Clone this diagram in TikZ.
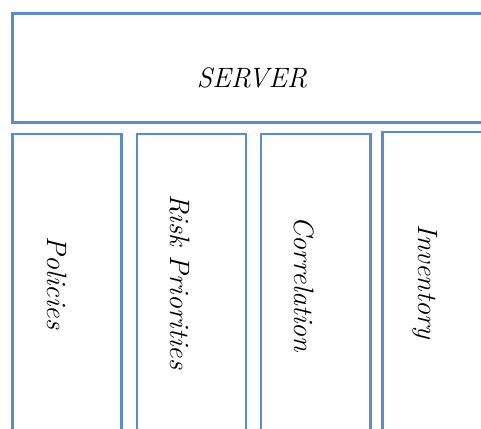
\documentclass[tikz,border=0pt]{standalone}
\definecolor{boxblue}{RGB}{88,141,212}
\tikzset{
  panel/.style={draw=boxblue, line width=2.4pt},
  lbl/.style={font=\fontsize{28}{33}\selectfont\itshape, inner sep=0pt},
  vlbl/.style={lbl, rotate=-90}
}
\begin{document}
\begin{tikzpicture}[x=1pt,y=-1pt]
\useasboundingbox (0,0) rectangle (481,428);
\clip (0,0) rectangle (481,428);
\draw[panel] (12.5,13.7) rectangle (500,122.3);
\draw[panel] (12.5,133.7) rectangle (121.3,450);
\draw[panel] (136.8,133.7) rectangle (246,450);
\draw[panel] (261,133.7) rectangle (370.5,450);
\draw[panel] (382.3,131.7) rectangle (500,450);
\node[lbl] (server) at (252,78) {SERVER};
\node[vlbl] (policies) at (57,283) {Policies};
\node[vlbl] (risk) at (180,282) {Risk Priorities};
\node[vlbl] (corr) at (304,284) {Correlation};
\node[vlbl] (inv) at (425,282) {Inventory};
\end{tikzpicture}
\end{document}
